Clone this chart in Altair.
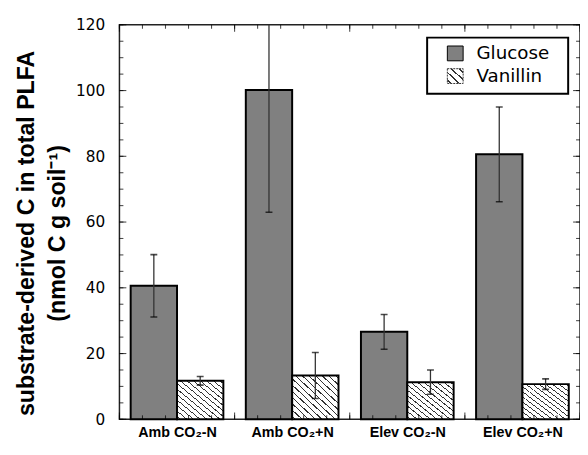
import altair as alt
import pandas as pd

# ---- data ----
groups = ["Amb CO\u2082-N", "Amb CO\u2082+N", "Elev CO\u2082-N", "Elev CO\u2082+N"]
series = ["Glucose", "Vanillin"]
glucose_mean = [40.6, 100.2, 26.6, 80.6]
glucose_err = [9.5, 37.2, 5.3, 14.4]
vanillin_mean = [11.7, 13.3, 11.3, 10.7]
vanillin_err = [1.3, 7.0, 3.7, 1.6]

# axis tick values
y_labels = list(range(0, 121, 20))
y_minor = list(range(0, 121, 5))
x_major = [0, 1, 2, 3, 4]
x_minor = [i / 5 for i in range(21)]

rows = []
for gi, g in enumerate(groups):
    rows.append({"group": g, "gi": gi, "series": series[0], "si": 0,
                 "mean": glucose_mean[gi], "err": glucose_err[gi]})
    rows.append({"group": g, "gi": gi, "series": series[1], "si": 1,
                 "mean": vanillin_mean[gi], "err": vanillin_err[gi]})
df = pd.DataFrame(rows)

PAD = 0.0975
BW = 0.4025

base = alt.Chart(df).transform_calculate(
    x0=f"datum.gi + {PAD} + datum.si * {BW}",
    x1=f"datum.gi + {PAD} + (datum.si + 1) * {BW}",
    xc=f"datum.gi + {PAD} + (datum.si + 0.5) * {BW}",
    lo="datum.mean - datum.err",
    hi="datum.mean + datum.err",
)

xscale = alt.Scale(domain=[0, 4], nice=False, zero=False)
yscale = alt.Scale(domain=[0, 120], nice=False, zero=True)

label_expr = "[" + ",".join("'" + g + "'" for g in groups) + "][floor(datum.value)]"

def hatch(n, lw, dark="#333333"):
    stops = [alt.GradientStop(offset=0, color="white")]
    for k in range(n):
        a = (k + 0.5) / n
        stops += [
            alt.GradientStop(offset=a - lw / 2, color="white"),
            alt.GradientStop(offset=a - lw / 2, color=dark),
            alt.GradientStop(offset=a + lw / 2, color=dark),
            alt.GradientStop(offset=a + lw / 2, color="white"),
        ]
    stops.append(alt.GradientStop(offset=1, color="white"))
    return alt.LinearGradient(gradient="linear", stops=stops, x1=0, y1=1, x2=1, y2=0)

TICK_FONT = "DejaVu Sans"
BOLD_FONT = "Liberation Sans"

# glucose bars (carry the labelled axes)
glucose = base.transform_filter(f"datum.series == '{series[0]}'").mark_rect(
    fill="#808080", stroke="black", strokeWidth=2
).encode(
    x=alt.X("x0:Q", scale=xscale, axis=alt.Axis(
        orient="bottom", values=[0.5, 1.5, 2.5, 3.5], labelExpr=label_expr,
        ticks=False, domain=False, grid=False, title=None,
        labelFont=BOLD_FONT, labelFontWeight="bold", labelFontSize=14.5,
        labelColor="black", labelPadding=6, labelBaseline="top")),
    x2="x1:Q",
    y=alt.Y("mean:Q", scale=yscale, axis=alt.Axis(
        orient="left", values=y_labels, ticks=False, domain=False,
        grid=False, labelFont=TICK_FONT, labelFontSize=15.5, labelColor="black",
        labelPadding=15,
        title=["substrate-derived C in total PLFA", "(nmol C g soil\u207b\u00b9)"],
        titleFont=BOLD_FONT, titleFontWeight="bold", titleFontSize=23.5,
        titleColor="black", titleLineHeight=31, titleX=-94, titleY=211,
        titleAngle=-90, titleAlign="center", titleBaseline="middle")),
    y2=alt.datum(0),
)

vanillin = base.transform_filter(f"datum.series == '{series[1]}'").mark_rect(
    fill=hatch(14, 0.014), stroke="black", strokeWidth=2
).encode(
    x=alt.X("x0:Q", scale=xscale, axis=None),
    x2="x1:Q",
    y=alt.Y("mean:Q", scale=yscale, axis=None),
    y2=alt.datum(0),
)

stems = base.mark_rule(color="#333333", strokeWidth=1.3, clip=True).encode(
    x=alt.X("xc:Q", scale=xscale, axis=None),
    y=alt.Y("lo:Q", scale=yscale, axis=None),
    y2="hi:Q",
)

caps = base.transform_fold(["lo", "hi"], as_=["end", "val"]).mark_tick(
    color="black", orient="horizontal", size=7, thickness=1.6, clip=True
).encode(
    x=alt.X("xc:Q", scale=xscale, axis=None),
    y=alt.Y("val:Q", scale=yscale, axis=None),
)

# inside ticks on all four sides of the frame
def vals(lst):
    return alt.Data(values=[{"v": v} for v in lst])

def yticks(lst, size, side):
    at, off = (0, size / 2) if side == "left" else (4, -size / 2)
    return alt.Chart(vals(lst)).mark_tick(
        orient="horizontal", size=size, thickness=1.1, color="black", xOffset=off
    ).encode(x=alt.X(datum=at, scale=xscale, axis=None),
             y=alt.Y("v:Q", scale=yscale, axis=None))

def xticks(lst, size, side):
    at, off = (0, -size / 2) if side == "bottom" else (120, size / 2)
    return alt.Chart(vals(lst)).mark_tick(
        orient="vertical", size=size, thickness=1.1, color="black", yOffset=off
    ).encode(x=alt.X("v:Q", scale=xscale, axis=None),
             y=alt.Y(datum=at, scale=yscale, axis=None))

ticks = [
    yticks(y_minor, 4, "left"), yticks(y_labels, 7, "left"),
    yticks(y_minor, 4, "right"), yticks(y_labels, 7, "right"),
    xticks(x_minor, 4, "bottom"), xticks(x_major, 7, "bottom"),
    xticks(x_minor, 4, "top"), xticks(x_major, 7, "top"),
]

# legend (drawn by hand)
one = alt.Data(values=[{}])
leg_box = alt.Chart(one).mark_rect(fill="white", stroke="black", strokeWidth=2).encode(
    x=alt.value(312), x2=alt.value(455), y=alt.value(13), y2=alt.value(70))
leg_g = alt.Chart(one).mark_rect(fill="#808080", stroke="black", strokeWidth=1).encode(
    x=alt.value(332.5), x2=alt.value(348.5), y=alt.value(21.5), y2=alt.value(36.5))
leg_v = alt.Chart(one).mark_rect(fill=hatch(4, 0.06), stroke="#333333", strokeWidth=1,
                                 strokeDash=[2, 1]).encode(
    x=alt.value(332.5), x2=alt.value(348.5), y=alt.value(44.5), y2=alt.value(59.5))
leg_tg = alt.Chart(one).mark_text(align="left", baseline="alphabetic", font=TICK_FONT,
                                  fontSize=18.5, color="black").encode(
    x=alt.value(362), y=alt.value(34.5), text=alt.value(series[0]))
leg_tv = alt.Chart(one).mark_text(align="left", baseline="alphabetic", font=TICK_FONT,
                                  fontSize=18.5, color="black").encode(
    x=alt.value(362), y=alt.value(57.5), text=alt.value(series[1]))

chart = alt.layer(
    glucose, vanillin, stems, caps, *ticks, leg_box, leg_g, leg_v, leg_tg, leg_tv
).resolve_axis(x="independent", y="independent").properties(
    width=467, height=400,
    autosize=alt.AutoSizeParams(type="none"),
    padding={"left": 113, "top": 14, "right": 0, "bottom": 21},
).configure_view(stroke="#222222", strokeWidth=1.5)

chart.save("out.html", embed_options={"renderer": "svg", "actions": False})
